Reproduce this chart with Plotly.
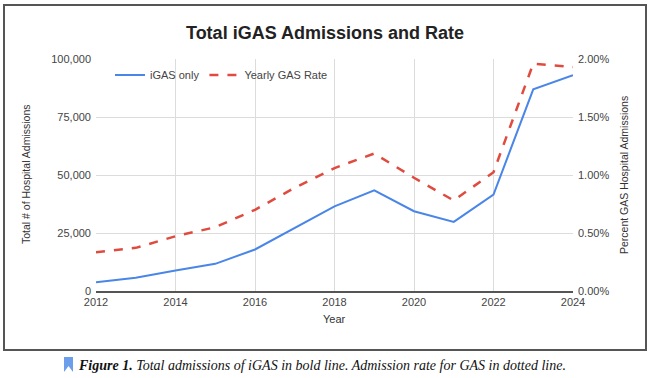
import plotly.graph_objects as go

years = [2012, 2013, 2014, 2015, 2016, 2017, 2018, 2019, 2020, 2021, 2022, 2023, 2024]
igas_admissions = [3800, 5700, 8800, 11700, 17900, 27200, 36500, 43400, 34400, 29800, 41600, 86900, 93000]
gas_rate = [0.00334, 0.00372, 0.00472, 0.0055, 0.0070, 0.0089, 0.0106, 0.01185, 0.00976, 0.0078, 0.01024, 0.0196, 0.0193]

x_ticks = [2012, 2014, 2016, 2018, 2020, 2022, 2024]
y_ticks = [0, 25000, 50000, 75000, 100000]
y2_ticks = [0, 0.005, 0.01, 0.015, 0.02]

W, H = 650, 378
L, R, T, B = 96, 573, 59, 291


def px(xp):
    return (xp - L) / (R - L)


def py(yp):
    return (B - yp) / (B - T)


FONT = "Liberation Sans, Arial, sans-serif"
TICKC = "#444444"

fig = go.Figure()
fig.add_trace(go.Scatter(x=years, y=igas_admissions, name="iGAS only", mode="lines",
                         line=dict(color="#4a86e8", width=2), yaxis="y"))
fig.add_trace(go.Scatter(x=years, y=gas_rate, name="Yearly GAS Rate", mode="lines",
                         line=dict(color="#e04b3f", width=2.5, dash="dash"), yaxis="y2"))

fig.update_layout(
    width=W, height=H,
    margin=dict(l=L, r=W - R, t=T, b=H - B, pad=0),
    paper_bgcolor="white", plot_bgcolor="white",
    font=dict(family=FONT, size=11, color=TICKC),
    title=dict(text="<b>Total iGAS Admissions and Rate</b>", x=0.5, xanchor="center",
               y=1 - 33 / H, yanchor="middle",
               font=dict(family=FONT, size=18, color="#222222")),
    xaxis=dict(range=[2012, 2024], tickvals=x_ticks, ticktext=[str(v) for v in x_ticks],
               showgrid=True, gridcolor="#dcdcdc", gridwidth=1, zeroline=False,
               showline=True, linecolor="#555555", linewidth=1.5, ticks="",
               tickfont=dict(size=11, color=TICKC)),
    yaxis=dict(range=[0, 100000], tickvals=y_ticks, ticktext=[f"{v:,}" for v in y_ticks],
               showgrid=True, gridcolor="#dcdcdc", gridwidth=1, zeroline=False,
               showline=False, ticks="", ticklabelstandoff=4,
               tickfont=dict(size=11, color=TICKC)),
    yaxis2=dict(range=[0, 0.02], tickvals=y2_ticks, ticktext=[f"{v*100:.2f}%" for v in y2_ticks],
                overlaying="y", side="right", showgrid=False, zeroline=False, showline=False,
                ticks="", ticklabelstandoff=4, tickfont=dict(size=11, color=TICKC)),
    legend=dict(orientation="h", x=px(110), y=py(75), xanchor="left", yanchor="middle",
                bgcolor="rgba(0,0,0,0)", font=dict(size=11, color=TICKC),
                itemwidth=30, tracegroupgap=0),
    showlegend=True,
)

annotations = [
    dict(text="Total # of Hospital Admissions", x=px(26), y=py(175), xref="paper", yref="paper",
         textangle=-90, showarrow=False, font=dict(size=10.5, color="#333333"),
         xanchor="center", yanchor="middle"),
    dict(text="Percent GAS Hospital Admissions", x=px(624), y=py(175), xref="paper", yref="paper",
         textangle=-90, showarrow=False, font=dict(size=10.5, color="#333333"),
         xanchor="center", yanchor="middle"),
    dict(text="Year", x=px(334), y=py(319), xref="paper", yref="paper",
         showarrow=False, font=dict(size=11, color="#333333"),
         xanchor="center", yanchor="middle"),
    dict(text="<b><i>Figure 1.</i></b><i> Total admissions of iGAS in bold line. Admission rate for GAS in dotted line.</i>",
         x=px(76), y=py(365), xref="paper", yref="paper", showarrow=False,
         font=dict(family="Liberation Serif, Times New Roman, serif", size=14, color="#111111"),
         xanchor="left", yanchor="middle"),
]
fig.update_layout(annotations=annotations)

shapes = [
    dict(type="rect", xref="paper", yref="paper", x0=px(4), x1=px(646), y0=py(350), y1=py(5),
         line=dict(color="#555555", width=2), fillcolor="rgba(0,0,0,0)", layer="below"),
    dict(type="path", xref="paper", yref="paper",
         path=f"M {px(64)},{py(357)} L {px(73)},{py(357)} L {px(73)},{py(372)} L {px(68.5)},{py(366)} L {px(64)},{py(372)} Z",
         fillcolor="#6d9eeb", line=dict(width=0)),
]
fig.update_layout(shapes=shapes)

fig.write_html("out.html")
